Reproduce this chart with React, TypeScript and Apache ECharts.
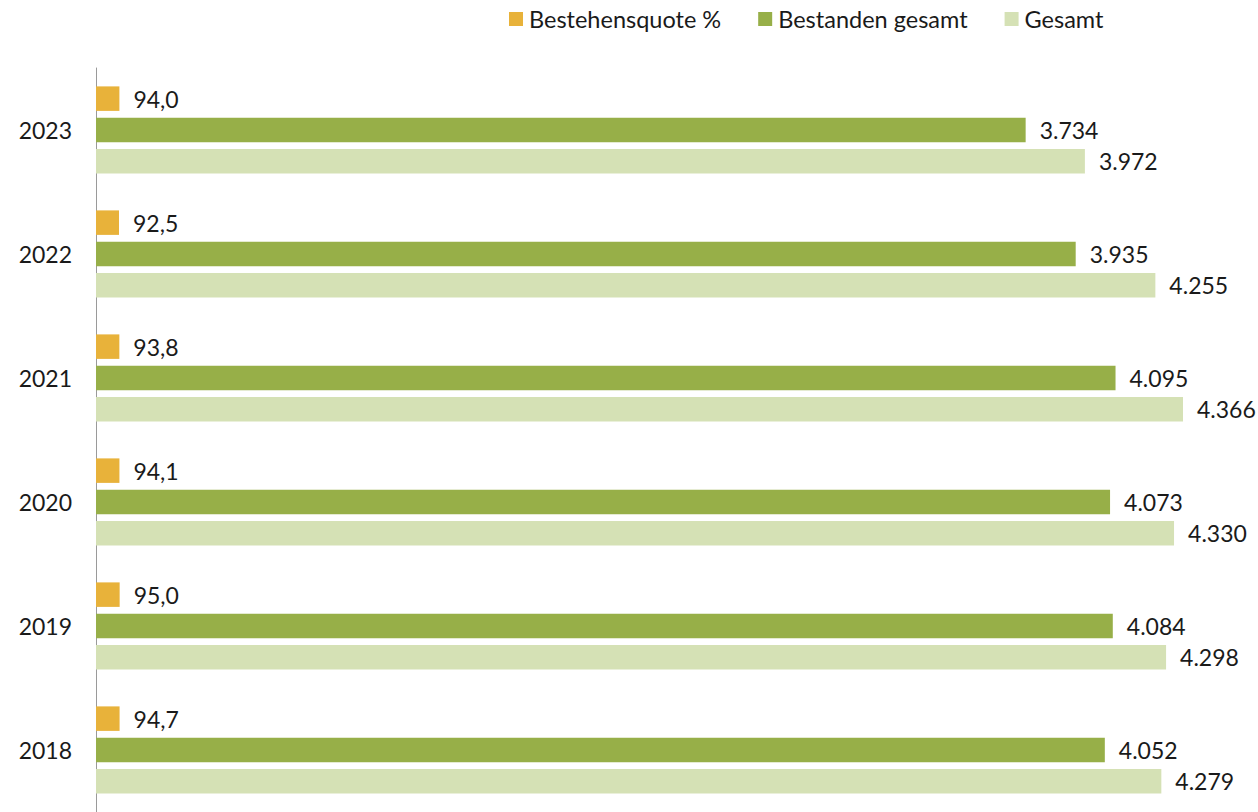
import React, { useEffect, useRef } from "react";
import * as echarts from "echarts";

const years = ["2023", "2022", "2021", "2020", "2019", "2018"];
const quote = [94.0, 92.5, 93.8, 94.1, 95.0, 94.7];
const bestanden = [3734, 3935, 4095, 4073, 4084, 4052];
const gesamt = [3972, 4255, 4366, 4330, 4298, 4279];
const seriesNames = ["Bestehensquote %", "Bestanden gesamt", "Gesamt"];
const colors = ["#E8B23A", "#97AF48", "#D5E1B5"];

const FONT = "Lato, 'Noto Sans', sans-serif";
const TEXT = "#1a1a1a";

const fmtThousands = (v: number) =>
  String(Math.round(v)).replace(/\B(?=(\d{3})+(?!\d))/g, ".");
const fmtDecimal = (v: number) => v.toFixed(1).replace(".", ",");

export default function App() {
  const ref = useRef<HTMLDivElement>(null);
  useEffect(() => {
    if (!ref.current) return;
    const chart = echarts.init(ref.current, undefined, { renderer: "svg" });
    const label = (fmt: (v: number) => string) => ({
      show: true,
      position: "right",
      distance: 14,
      color: TEXT,
      fontFamily: FONT,
      fontSize: 23,
      formatter: (p: any) => fmt(p.value),
    });
    chart.setOption({
      animation: false,
      backgroundColor: "#ffffff",
      textStyle: { fontFamily: FONT },
      legend: {
        left: 504,
        top: 2,
        itemWidth: 14,
        itemHeight: 14,
        itemGap: 37,
        icon: "rect",
        textStyle: { fontFamily: FONT, fontSize: 23.5, color: TEXT, padding: [0, 0, 0, 1] },
        data: seriesNames,
      },
      grid: { left: 96, top: 68, width: 1087, height: 750, containLabel: false },
      xAxis: {
        type: "value",
        min: 0,
        max: 4366,
        show: false,
      },
      yAxis: {
        type: "category",
        data: years,
        inverse: true,
        axisLine: { show: true, lineStyle: { color: "#9a9a9a", width: 1 } },
        axisTick: { show: false },
        axisLabel: { color: TEXT, fontFamily: FONT, fontSize: 23, margin: 24 },
        splitLine: { show: false },
      },
      series: [
        {
          name: seriesNames[0],
          type: "bar",
          data: quote,
          barWidth: 24.5,
          barGap: "28%",
          itemStyle: { color: colors[0] },
          label: label(fmtDecimal),
        },
        {
          name: seriesNames[1],
          type: "bar",
          data: bestanden,
          barWidth: 24.5,
          barGap: "28%",
          itemStyle: { color: colors[1] },
          label: label(fmtThousands),
        },
        {
          name: seriesNames[2],
          type: "bar",
          data: gesamt,
          barWidth: 24.5,
          barGap: "28%",
          itemStyle: { color: colors[2] },
          label: label(fmtThousands),
        },
      ],
    });
    return () => chart.dispose();
  }, []);
  return (
    <div
      ref={ref}
      style={{ position: "absolute", left: 0, top: 0, width: 1258, height: 812 }}
    />
  );
}
